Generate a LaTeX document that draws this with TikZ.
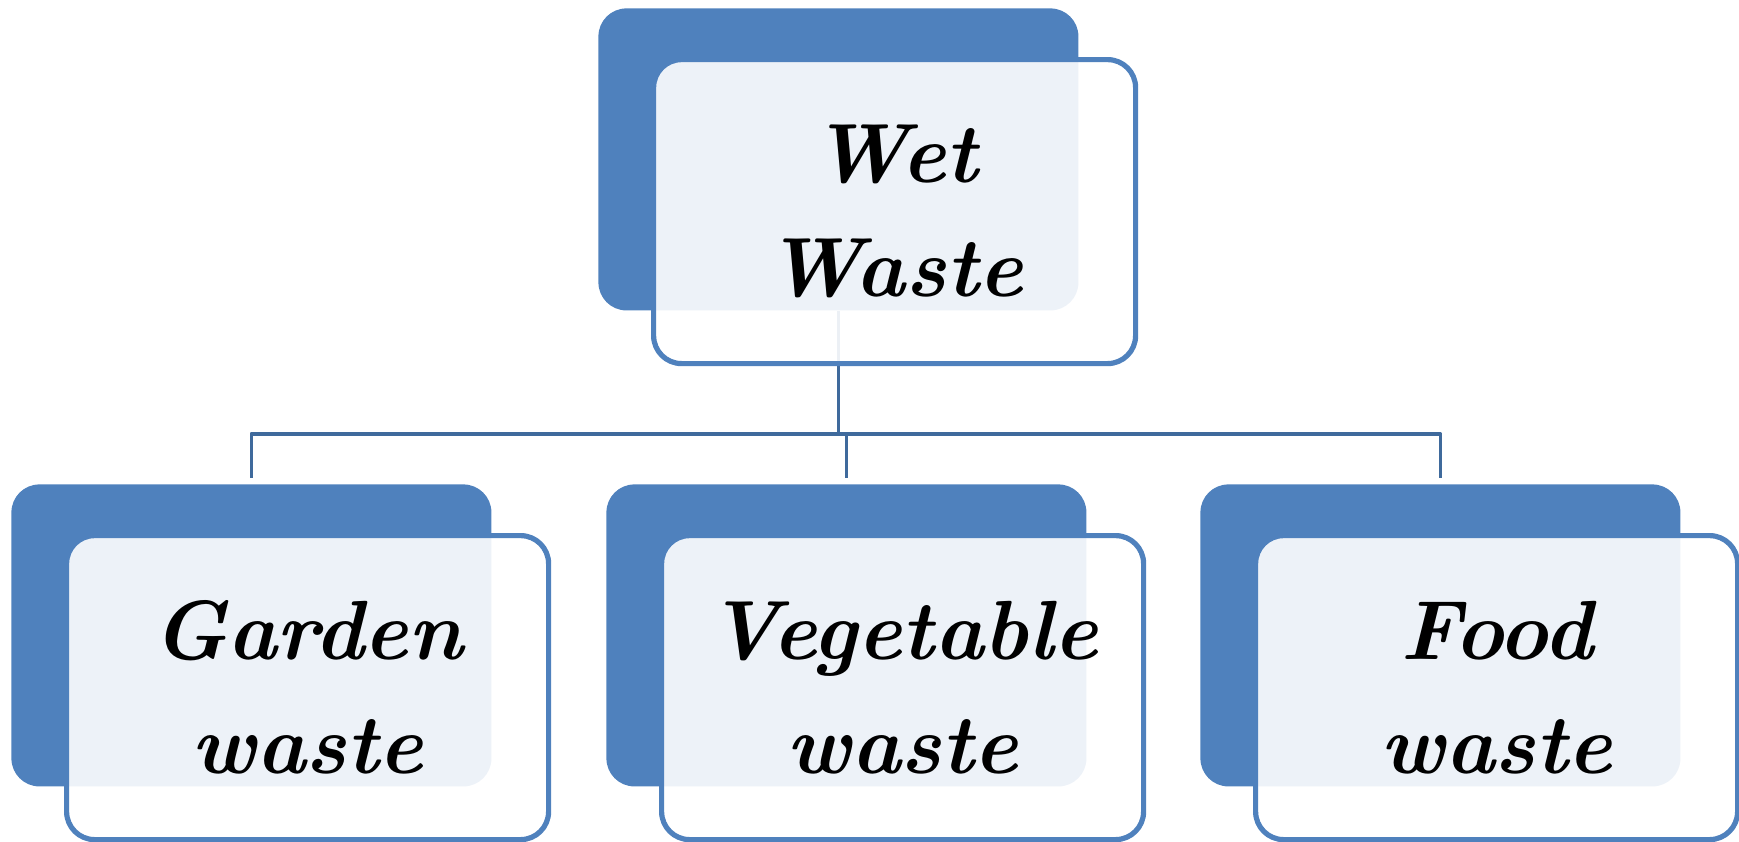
\documentclass[tikz,border=0pt]{standalone}
\usetikzlibrary{positioning}
\definecolor{boxblue}{HTML}{4F81BD}
\definecolor{linkblue}{HTML}{3F6A9C}

\begin{document}
\begin{tikzpicture}[
    x=0.5pt,y=-0.5pt,
    line join=round,line cap=round,
    backbox/.style={rectangle,fill=boxblue,rounded corners=14pt,
        minimum width=240pt,minimum height=151pt,inner sep=0pt,
        anchor=north west},
    frontbox/.style={rectangle,draw=boxblue,line width=2.6pt,fill=white,
        fill opacity=0.9,text opacity=1,rounded corners=14pt,
        minimum width=241pt,minimum height=152pt,inner sep=0pt,
        anchor=north west,align=center,
        font=\fontsize{42}{57}\selectfont\bfseries\itshape},
    link/.style={draw=linkblue,line width=1.8pt,line cap=butt},
    node distance=4mm
  ]

    \useasboundingbox (0,0) rectangle (1739,841);

    % blue cards behind
    \node [backbox] (wetback)     at (598,8)   {};
    \node [backbox] (gardenback)  at (11,484)  {};
    \node [backbox] (vegback)     at (606,484) {};
    \node [backbox] (foodback)    at (1200,484) {};

    % tree lines
    \coordinate (split) at ([yshift=-61.5pt]wetback.south);
    \draw [link] (wetback.south) -- (split);
    \draw [link,shorten >=3pt] (split) -| (gardenback.north);
    \draw [link,shorten >=3pt] (split) -| (vegback.north);
    \draw [link,shorten >=3pt] (split) -| (foodback.north);

    % white cards with the labels
    \node [frontbox] (wet)    at ([shift={(26.5pt,-24.5pt)}]wetback.north west)
        {Wet\\Waste};
    \node [frontbox] (garden) at ([shift={(26.5pt,-24.5pt)}]gardenback.north west)
        {Garden\\waste};
    \node [frontbox] (veg)    at ([shift={(26.5pt,-24.5pt)}]vegback.north west)
        {Vegetable\\waste};
    \node [frontbox] (food)   at ([shift={(26.5pt,-24.5pt)}]foodback.north west)
        {Food\\waste};
\end{tikzpicture}
\end{document}
